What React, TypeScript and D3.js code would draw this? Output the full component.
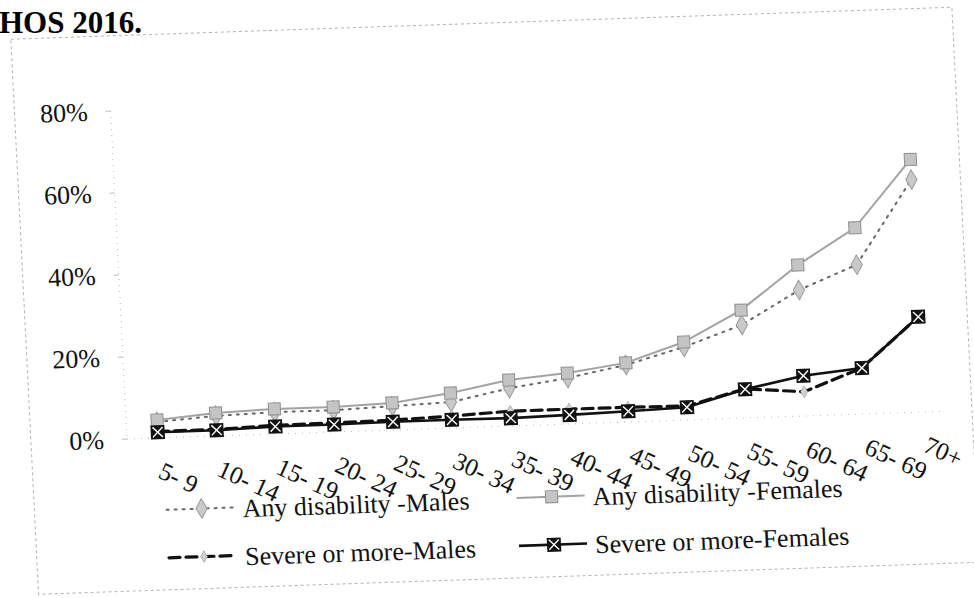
import * as d3 from "d3";

// age groups on the x axis
const categories = [
  "5- 9", "10- 14", "15- 19", "20- 24", "25- 29", "30- 34", "35- 39",
  "40- 44", "45- 49", "50- 54", "55- 59", "60- 64", "65- 69", "70+",
];

// prevalence, percent
const anyMales = [3.9, 4.9, 5.3, 5.3, 5.8, 6.3, 9.2, 11.2, 13.9, 17.8, 22.7, 30.7, 36.4, 56.7];
const anyFemales = [4.4, 5.6, 6.1, 6.1, 6.6, 8.5, 11.2, 12.4, 14.4, 19.0, 26.3, 36.8, 45.4, 61.6];
const severeMales = [1.6, 1.6, 2.1, 2.2, 2.4, 2.9, 3.6, 3.6, 3.6, 3.4, 7.1, 5.9, 11.2, 23.2];
const severeFemales = [1.4, 1.4, 1.8, 1.8, 2.0, 2.0, 1.9, 2.2, 2.6, 3.1, 7.0, 9.8, 11.2, 23.2];

const yTicks = [0, 20, 40, 60, 80];

const legendLabels = [
  "Any disability -Males",
  "Any disability -Females",
  "Severe or more-Males",
  "Severe or more-Females",
];

const W = 974;
const H = 598;
const ORIGIN = { x: 127, y: 439 };
const FONT = "'Liberation Serif', 'Times New Roman', serif";

// the scan is slightly tilted, so the whole chart gets a small skew/rotation
const TILT = `translate(${ORIGIN.x},${ORIGIN.y}) matrix(1,-0.034,0.05,1,0,0) translate(${-ORIGIN.x},${-ORIGIN.y})`;

type Marker = "diamond" | "square" | "small" | "xbox";

function MarkerShape({ kind, x, y }: { kind: Marker; x: number; y: number }) {
  if (kind === "diamond") {
    const p = d3.symbol().type(d3.symbolDiamond).size(110)();
    return (
      <path d={p ?? ""} transform={`translate(${x},${y})`} fill="#c9c9c9" stroke="#9a9a9a" strokeWidth={1} />
    );
  }
  if (kind === "square") {
    const s = 12;
    return (
      <rect x={x - s / 2} y={y - s / 2} width={s} height={s} fill="#c4c4c4" stroke="#8f8f8f" strokeWidth={1} />
    );
  }
  if (kind === "small") {
    const p = d3.symbol().type(d3.symbolDiamond).size(40)();
    return <path d={p ?? ""} transform={`translate(${x},${y})`} fill="#d0d0d0" stroke="#aaa" strokeWidth={0.8} />;
  }
  const s = 14;
  return (
    <g>
      <rect x={x - s / 2} y={y - s / 2} width={s} height={s} fill="#111" />
      <line x1={x - s / 2 + 2} y1={y - s / 2 + 2} x2={x + s / 2 - 2} y2={y + s / 2 - 2} stroke="#fff" strokeWidth={1.4} />
      <line x1={x + s / 2 - 2} y1={y - s / 2 + 2} x2={x - s / 2 + 2} y2={y + s / 2 - 2} stroke="#fff" strokeWidth={1.4} />
    </g>
  );
}

const seriesStyles = [
  { values: anyMales, stroke: "#666", width: 2, dash: "2 6", marker: "diamond" as Marker },
  { values: anyFemales, stroke: "#a3a3a3", width: 2, dash: undefined, marker: "square" as Marker },
  { values: severeMales, stroke: "#111", width: 3.2, dash: "11 6", marker: "small" as Marker },
  { values: severeFemales, stroke: "#111", width: 2.6, dash: undefined, marker: "xbox" as Marker },
];

export default function App() {
  const x = d3.scalePoint<string>().domain(categories).range([158, 923]);
  const y = d3.scaleLinear().domain([0, 80]).range([ORIGIN.y, 111]);

  const line = d3
    .line<number>()
    .x((_, i) => x(categories[i]) ?? 0)
    .y((d) => y(d));

  // legend layout: two columns, two rows
  const legendCols = [163, 513];
  const legendRows = [521, 569];

  return (
    <svg
      width={W}
      height={H}
      viewBox={`0 0 ${W} ${H}`}
      style={{ position: "absolute", left: 0, top: 0, background: "#fff" }}
      fontFamily={FONT}
    >
      <rect width={W} height={H} fill="#fff" />

      <text x={-1} y={33} fontSize={31} fontWeight="bold" fill="#000">
        HOS 2016.
      </text>

      <g transform={TILT}>
        {/* chart border (faint, as in the scan) */}
        <rect x={31} y={36} width={941} height={555} fill="none" stroke="#aaa" strokeWidth={0.9} strokeDasharray="3 3" />

        {/* axes, barely visible */}
        <line x1={ORIGIN.x} x2={ORIGIN.x} y1={y(80)} y2={y(0)} stroke="#bbb" strokeWidth={1} strokeDasharray="1 5" />
        <line x1={ORIGIN.x} x2={940} y1={y(0)} y2={y(0)} stroke="#bbb" strokeWidth={1} strokeDasharray="1 6" />

        {yTicks.map((t) => (
          <g key={t}>
            <line x1={ORIGIN.x - 5} x2={ORIGIN.x} y1={y(t)} y2={y(t)} stroke="#bbb" strokeWidth={1} />
            <text x={104} y={y(t)} dy="0.35em" textAnchor="end" fontSize={26} fill="#111">
              {`${t}%`}
            </text>
          </g>
        ))}

        {categories.map((c) => (
          <text
            key={c}
            transform={`translate(${(x(c) ?? 0) - 3},478) rotate(27)`}
            fontSize={25}
            fill="#111"
          >
            {c}
          </text>
        ))}

        {seriesStyles.map((s, k) => (
          <g key={k}>
            <path
              d={line(s.values) ?? ""}
              fill="none"
              stroke={s.stroke}
              strokeWidth={s.width}
              strokeDasharray={s.dash}
              strokeLinecap={s.dash ? "round" : "butt"}
            />
            {s.values.map((v, i) => (
              <MarkerShape key={i} kind={s.marker} x={x(categories[i]) ?? 0} y={y(v)} />
            ))}
          </g>
        ))}

        {/* legend */}
        {seriesStyles.map((s, k) => {
          const lx = legendCols[k % 2];
          const ly = legendRows[Math.floor(k / 2)];
          return (
            <g key={k}>
              <line
                x1={lx}
                x2={lx + 68}
                y1={ly - 10}
                y2={ly - 10}
                stroke={s.stroke}
                strokeWidth={s.width}
                strokeDasharray={s.dash}
                strokeLinecap={s.dash ? "round" : "butt"}
              />
              <MarkerShape kind={s.marker} x={lx + 35} y={ly - 10} />
              <text x={lx + 76} y={ly} fontSize={26} fill="#111">
                {legendLabels[k]}
              </text>
            </g>
          );
        })}
      </g>
    </svg>
  );
}
